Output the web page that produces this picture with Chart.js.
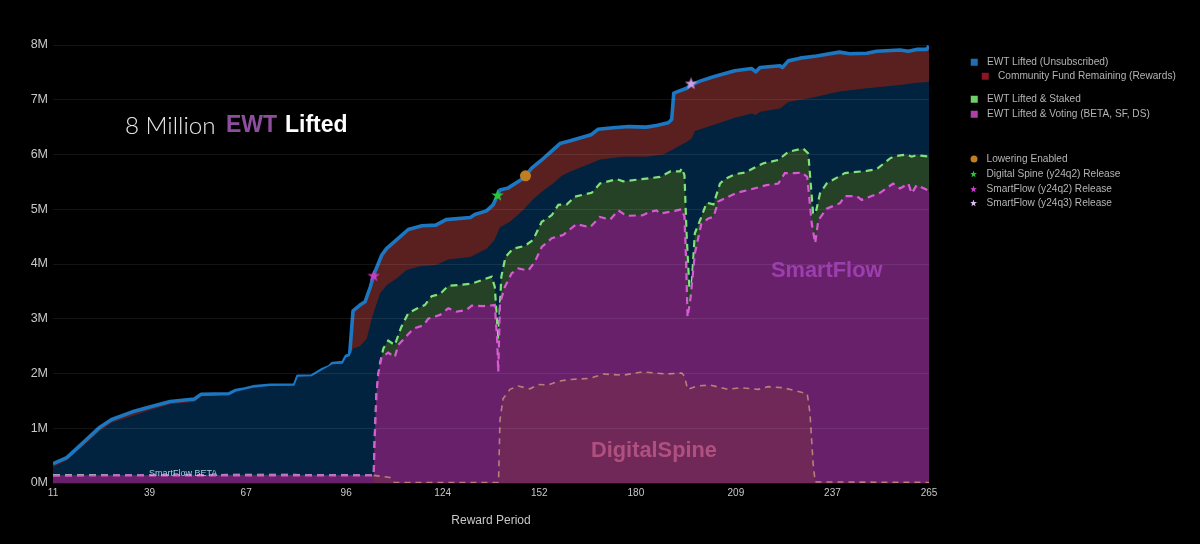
<!DOCTYPE html>
<html><head><meta charset="utf-8">
<script src="https://cdn.jsdelivr.net/npm/chart.js@4"></script>
<style>
html,body{margin:0;padding:0;background:#000;width:1200px;height:544px;overflow:hidden}
#wrap{position:relative;width:1200px;height:544px}
canvas{position:absolute;left:0;top:0}
.t{position:absolute;white-space:nowrap;font-family:"Liberation Sans",Arial,sans-serif;line-height:1;transform:translateY(-50%)}
.lg{font-size:10.15px;color:#b4b4b4}
.m{position:absolute;transform:translate(-50%,-50%)}
</style></head><body>
<div id="wrap"><canvas id="c" width="1200" height="544"></canvas></div>
<script>
const xTicks=[11,39,67,96,124,152,180,209,237,265];
const yTicks=[0,1,2,3,4,5,6,7,8];
// [reward period, EWT in millions]
const lifted=[[11,.353],[15,.463],[20,.75],[24.6,1.02],[28,1.16],[34,1.30],[39,1.39],[45,1.49],[52,1.535],[54,1.62],[62,1.63],[64,1.69],[66,1.71],[69,1.755],[74,1.785],[81,1.785],[82,1.95],[86,1.955],[89,2.07],[91,2.12],[92,2.18],[95,2.2],[96,2.315],[97,2.335],[98,3.145],[100,3.25],[101.5,3.31],[103,3.58],[104,3.80],[106.3,4.16],[107.7,4.28],[110.6,4.44],[114,4.63],[118,4.70],[122,4.71],[125,4.81],[132,4.85],[133.3,4.905],[136.7,4.97],[138.6,5.08],[140.6,5.35],[143,5.39],[147.3,5.56],[149.8,5.75],[152.7,5.90],[155,6.03],[158,6.20],[161,6.25],[167,6.36],[169,6.46],[173.4,6.49],[178,6.51],[183,6.50],[186,6.53],[189.4,6.58],[190.4,6.64],[191,7.12],[194.7,7.21],[196,7.27],[198.6,7.34],[202.5,7.42],[208.7,7.53],[213.6,7.57],[214.8,7.51],[216,7.59],[221.8,7.62],[222.5,7.59],[224.2,7.71],[227.6,7.76],[232.4,7.80],[239,7.87],[242,7.84],[247,7.85],[249.8,7.885],[256.6,7.91],[259,7.885],[261.4,7.92],[264.3,7.92],[265,7.98]];
const unsubscribed=[[11,.29],[15,.41],[24.6,.95],[28,1.10],[39,1.33],[45,1.44],[52,1.48],[54,1.585],[62,1.60],[64,1.665],[69,1.74],[74,1.77],[81,1.775],[82,1.94],[86,1.95],[89,2.06],[92,2.17],[95,2.18],[96,2.29],[97,2.315],[98,2.455],[100,2.50],[102,2.64],[103.4,3.0],[105.8,3.46],[107.7,3.61],[110.6,3.735],[113.5,3.89],[117.4,3.96],[122,3.98],[125.6,4.08],[132,4.13],[136.7,4.28],[139,4.44],[140.6,4.67],[143.5,4.77],[147.3,4.98],[150,5.17],[152.7,5.32],[156,5.47],[158.5,5.61],[161,5.69],[167,5.84],[169.6,5.91],[176.3,5.96],[183,5.96],[188,6.0],[194.7,6.23],[196.2,6.29],[197.1,6.43],[202.5,6.54],[208.7,6.67],[213.6,6.75],[214.8,6.72],[216,6.78],[221.8,6.84],[224.2,6.96],[231.4,7.04],[239,7.15],[247,7.21],[256.6,7.27],[261.4,7.31],[265,7.325]];
const staked=[[11,.145],[40,.14],[70,.15],[104,.14],[104.3,.84],[104.8,1.63],[105.8,2.18],[106.8,2.46],[108.2,2.6],[110.1,2.52],[112,2.85],[114,3.10],[116,3.17],[118.8,3.25],[120.8,3.41],[123.2,3.45],[125.6,3.60],[132.4,3.64],[138.2,3.77],[139.1,3.58],[140.1,2.61],[141,3.77],[142.2,4.13],[144.4,4.28],[147.8,4.33],[150.2,4.44],[152.7,4.77],[155.6,4.89],[157.5,5.08],[160,5.09],[162.3,5.23],[167.2,5.30],[169.6,5.47],[174.4,5.55],[176.3,5.51],[183,5.56],[187,5.59],[190,5.69],[192.8,5.69],[193.3,5.75],[194.1,5.62],[194.7,4.56],[195.5,3.58],[196.2,3.64],[197.1,4.56],[199,4.86],[200.5,5.12],[202.5,5.09],[204.4,5.47],[205.8,5.55],[208.7,5.64],[211.6,5.67],[217,5.84],[221.3,5.90],[224.2,6.05],[228.5,6.11],[230,6.02],[231.4,4.92],[232.1,4.92],[233.4,5.29],[235.3,5.47],[240.6,5.66],[246.9,5.70],[249.8,5.73],[253.7,5.93],[255.1,5.97],[258.5,6.0],[260,5.96],[261.4,5.99],[265,5.96]];
const voting=[[11,.135],[40,.14],[70,.14],[104,.14],[104.3,.84],[104.8,1.63],[105.3,2.0],[106.3,2.30],[108.2,2.38],[110.1,2.30],[111.1,2.52],[115.5,2.82],[118.4,2.88],[119.8,3.0],[123.2,3.07],[125.6,3.19],[128,3.13],[130.9,3.16],[132.4,3.24],[135.7,3.23],[139.1,3.25],[139.8,2.61],[140.1,2.03],[140.6,3.28],[142,3.58],[144,3.83],[145.9,3.92],[148.8,3.88],[150.7,4.04],[152.7,4.31],[155.6,4.47],[158.9,4.53],[162.8,4.73],[166.7,4.67],[169.6,4.86],[172.5,4.81],[174.9,4.98],[177.3,4.88],[182,4.89],[184,4.95],[186,4.98],[187,4.92],[191.3,4.97],[193.3,5.0],[194.1,4.86],[194.5,4.19],[195,3.03],[195.9,3.40],[197.1,4.19],[199,4.74],[201,4.83],[202.5,4.86],[203.9,5.14],[205.8,5.20],[209.2,5.30],[213.1,5.36],[217.9,5.44],[221.3,5.47],[223.2,5.66],[226.1,5.66],[228.1,5.67],[229.7,5.59],[231,4.74],[232,4.38],[232.9,4.80],[235.3,5.01],[239.2,5.11],[240.6,5.24],[244,5.24],[245.5,5.17],[250.8,5.30],[254.6,5.47],[256.6,5.38],[259,5.47],[260,5.29],[261.4,5.44],[265,5.34]];
const spine=[[104,.14],[108.7,.10],[110,.01],[140.1,.01],[140.2,.05],[140.6,1.15],[141.5,1.54],[143.5,1.71],[145.9,1.77],[149.3,1.72],[151.7,1.80],[154.6,1.79],[157.5,1.86],[160.9,1.89],[166.7,1.91],[170.5,1.99],[176.3,1.97],[182,2.03],[188.9,1.99],[193.3,2.01],[194.1,1.95],[195,1.71],[197.6,1.77],[201.5,1.79],[206.8,1.71],[210.2,1.74],[215.5,1.71],[218.4,1.76],[222.7,1.74],[226.6,1.68],[229.7,1.63],[230.5,1.27],[231.4,.35],[232,.02],[265,.01]];
const lowering=[[148,5.61]];
const spineRelease=[[139.9,5.25]];
const flowQ2=[[104,3.78]];
const flowQ3=[[196,7.29]];
const legendGroups=[
 ["EWT Lifted (Unsubscribed)","#1f6fb5","box",974,62,987],
 ["Community Fund Remaining (Rewards)","#8c1526","box",985,76,998],
 ["EWT Lifted & Staked","#6fd06a","box",974,99,987],
 ["EWT Lifted & Voting (BETA, SF, DS)","#b03fa8","box",974,114,987],
 ["Lowering Enabled","#c07e1f","dot",973.5,159,986.5],
 ["Digital Spine (y24q2) Release","#25c83a","star",973.5,174,986.5],
 ["SmartFlow (y24q2) Release","#c83fc8","star",973.5,189,986.5],
 ["SmartFlow (y24q3) Release","#d9c0ee","star",973.5,203,986.5]
];
const pts=a=>a.map(([x,y])=>({x,y}));
function starImg(color,d){
  const c=document.createElement('canvas');c.width=c.height=d;const g=c.getContext('2d');
  g.fillStyle=color;g.beginPath();
  for(let i=0;i<10;i++){const r=i%2?d*0.2:d*0.5,a=-Math.PI/2+i*Math.PI/5;
    g[i?'lineTo':'moveTo'](d/2+r*Math.cos(a),d/2+r*Math.sin(a));}
  g.closePath();g.fill();return c;
}
const marker=(label,data,style,color,radius)=>({type:'scatter',label,data:pts(data),showLine:false,pointStyle:style,pointRadius:radius,backgroundColor:color,borderColor:color,borderWidth:0,clip:false});
new Chart(document.getElementById('c'),{
 type:'line',
 data:{datasets:[
  marker('Lowering Enabled',lowering,'circle','#c07e1f',5.5),
  marker('Digital Spine (y24q2) Release',spineRelease,starImg('#25c83a',13),'#25c83a',6),
  marker('SmartFlow (y24q2) Release',flowQ2,starImg('#c83fc8',13),'#c83fc8',6),
  marker('SmartFlow (y24q3) Release',flowQ3,starImg('#d79be6',13),'#d79be6',6),
  {label:'DigitalSpine',data:pts(spine),borderColor:'#b8807a',borderWidth:1.6,borderDash:[6,5],fill:'origin',backgroundColor:'#6f2858',pointRadius:0,tension:0},
  {label:'EWT Lifted & Voting',data:pts(voting),borderColor:'#d65cd2',borderWidth:2.2,borderDash:[7,5],fill:'origin',backgroundColor:'#68206a',pointRadius:0,tension:0},
  {label:'EWT Lifted & Staked',data:pts(staked),borderColor:'#7fe27a',borderWidth:2.2,borderDash:[7,5],fill:'origin',backgroundColor:'#264226',pointRadius:0,tension:0},
  {label:'Unsubscribed',data:pts(unsubscribed),borderWidth:0,fill:'origin',backgroundColor:'#02233f',pointRadius:0,tension:0},
  {label:'EWT Lifted',data:pts(lifted),borderColor:'#1c77c3',borderWidth:3.6,fill:'origin',backgroundColor:'#5a2020',pointRadius:0,tension:0,borderJoinStyle:'round'}
 ]},
 options:{
  responsive:false,animation:false,devicePixelRatio:1,
  layout:{padding:{left:0,right:271,top:45,bottom:0}},
  plugins:{legend:{display:false},tooltip:{enabled:false},title:{display:false}},
  scales:{
   x:{type:'linear',min:11,max:265,
     afterBuildTicks:s=>{s.ticks=xTicks.map(v=>({value:v}))},
     afterFit:s=>{s.height=61},
     grid:{display:false},border:{display:false},
     ticks:{color:'#c8c8c8',font:{family:'Liberation Sans',size:10},autoSkip:false,maxRotation:0,padding:-4,callback:v=>String(v)},
     title:{display:true,text:'Reward Period',color:'#c8c8c8',font:{family:'Liberation Sans',size:12},padding:{top:0,bottom:16}}},
   y:{type:'linear',min:0,max:8,
     afterBuildTicks:s=>{s.ticks=yTicks.map(v=>({value:v}))},
     afterFit:s=>{s.width=53},
     grid:{color:'rgba(255,255,255,0.08)',z:1,drawTicks:false},border:{display:false},
     ticks:{color:'#c8c8c8',font:{family:'Liberation Sans',size:12.5},padding:5,callback:v=>v+'M'}}
  }
 }
});
const wrap=document.getElementById('wrap');
function text(str,x,y,css,cls){const s=document.createElement('span');s.className='t '+(cls||'');s.textContent=str;s.style.left=x+'px';s.style.top=y+'px';s.style.cssText+=css||'';wrap.appendChild(s);return s;}
text('8 Million',125,124,'font:300 24.2px Lato,sans-serif;color:#e8e8e8');
text('EWT',226,124,'font:bold 23px "Liberation Sans";color:#8e4ea0');
text('Lifted',285,124,'font:bold 23px "Liberation Sans";color:#fff');
text('SmartFlow',771,270,'font:bold 21.8px "Liberation Sans";color:#9c3fae');
text('DigitalSpine',591,450,'font:bold 21.8px "Liberation Sans";color:#b0507f');
text('SmartFlow BETA',149,472.5,'font:9px "Liberation Sans";color:#a8d0dc');
legendGroups.forEach(([name,color,kind,mx,my,tx])=>{
  const m=document.createElement('span');m.className='m';
  const d=kind==='star'?7:(kind==='dot'?7:6.5);
  m.style.cssText+=`left:${mx}px;top:${my}px;width:${d}px;height:${d}px;background:${color};`;
  if(kind==='dot')m.style.borderRadius='50%';
  if(kind==='star')m.style.clipPath='polygon(50% 0,62% 36%,100% 38%,69% 60%,81% 100%,50% 76%,19% 100%,31% 60%,0 38%,38% 36%)';
  wrap.appendChild(m);
  text(name,tx,my,'','lg');
});
</script>
</body></html>
